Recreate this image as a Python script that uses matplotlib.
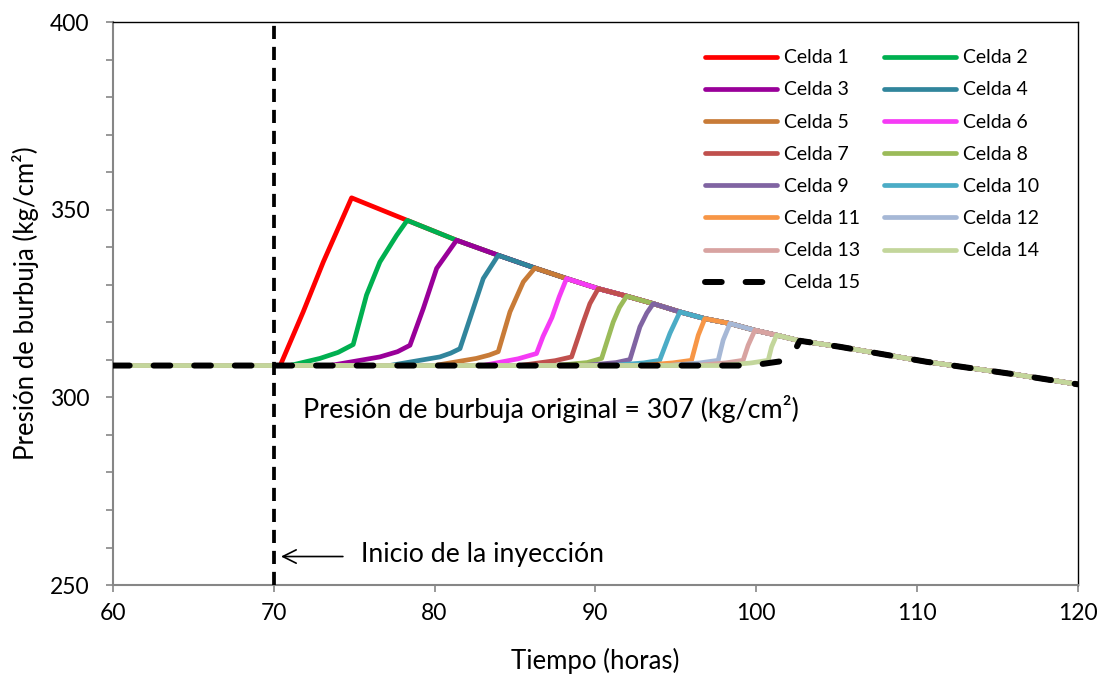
import matplotlib
matplotlib.use("Agg")
import matplotlib.pyplot as plt
from matplotlib.ticker import MultipleLocator

plt.rcParams['font.family'] = ['Lato', 'DejaVu Sans']

# Common declining envelope (peak of each cell and tail)
env_t = [74.84, 78.3, 81.37, 83.96, 86.24, 88.21, 90.18, 91.95, 93.6, 95.26,
         96.81, 98.37, 99.92, 101.27, 102.72, 105.2, 110.6, 116.0, 120.0]
env_p = [353.2, 347.2, 341.9, 337.9, 334.5, 331.7, 329.0, 327.0, 325.0, 322.8,
         321.0, 319.7, 317.9, 316.6, 315.1, 313.5, 309.5, 306.2, 303.5]

# Rising part of each cell (before it reaches the envelope)
rise_t = [
    [60, 70.4, 71.83, 73.08],
    [60, 71.0, 72.87, 74.0, 74.94, 75.77, 76.6, 77.64],
    [60, 73.5, 76.6, 77.7, 78.47, 79.3, 80.13],
    [60, 77.2, 80.33, 81.0, 81.58, 82.41, 83.03],
    [60, 80.0, 82.6, 83.4, 83.96, 84.69, 85.52],
    [60, 83.0, 85.2, 86.34, 86.75, 87.3, 87.75],
    [60, 85.3, 87.5, 88.52, 89.25, 89.66],
    [60, 87.5, 89.5, 90.39, 91.11, 91.5],
    [60, 89.3, 91.3, 92.15, 92.77, 93.2],
    [60, 91.0, 93.0, 94.0, 94.64],
    [60, 92.8, 94.8, 95.98, 96.4],
    [60, 94.5, 96.5, 97.64, 97.95],
    [60, 96.2, 98.1, 99.19, 99.5],
    [60, 97.8, 99.7, 100.75, 100.96],
    [60, 99.2, 100.34, 101.48, 102.41],
]
rise_p = [
    [308.5, 308.5, 322.8, 336.1],
    [308.5, 308.5, 310.4, 312.0, 314.1, 327.3, 336.1, 343.2],
    [308.5, 308.5, 310.8, 312.2, 313.9, 323.7, 334.4],
    [308.5, 308.5, 310.8, 311.8, 313.0, 323.7, 331.7],
    [308.5, 308.5, 310.4, 311.3, 312.2, 322.8, 330.8],
    [308.5, 308.5, 310.3, 311.7, 316.3, 321.3, 326.8],
    [308.5, 308.5, 309.8, 310.8, 320.1, 325.0],
    [308.5, 308.5, 309.3, 310.4, 320.1, 324.0],
    [308.5, 308.5, 309.3, 310.1, 318.8, 322.5],
    [308.5, 308.5, 309.2, 309.9, 317.1],
    [308.5, 308.5, 309.2, 309.9, 316.6],
    [308.5, 308.5, 309.2, 309.9, 315.3],
    [308.5, 308.5, 309.2, 309.9, 313.9],
    [308.5, 308.5, 309.2, 309.9, 313.5],
    [308.5, 308.5, 308.9, 309.6, 312.6],
]

labels = [f"Celda {i}" for i in range(1, 16)]
colors = ['#FF0000', '#00B050', '#990099', '#31859C', '#C87B37', '#F53BF5',
          '#C0504D', '#9BBB59', '#8064A2', '#4BACC6', '#F79646', '#A6B8D6',
          '#D8A3A1', '#C3D69B', '#000000']

fig = plt.figure(figsize=(11.02, 6.74), dpi=100)
ax = fig.add_axes([0.1025, 0.132, 0.8755, 0.835])

handles = []
for k in range(15):
    t = list(rise_t[k]) + env_t[k:]
    p = list(rise_p[k]) + env_p[k:]
    if k < 14:
        h, = ax.plot(t, p, color=colors[k], lw=3.4, solid_joinstyle='round',
                     solid_capstyle='round', label=labels[k], zorder=3)
    else:
        h, = ax.plot(t, p, color='black', lw=4.3, linestyle=(0, (2.8, 4.0)),
                     dash_capstyle='round', label=labels[k], zorder=4)
    handles.append(h)

# injection start line
ax.axvline(70, color='black', lw=2.7, linestyle=(0, (3.5, 2.1)), zorder=5)

ax.annotate("", xy=(70.45, 257.6), xytext=(74.3, 257.6),
            arrowprops=dict(arrowstyle='->', lw=1.2, color='black',
                            mutation_scale=24, shrinkA=0, shrinkB=0))
ax.text(75.4, 258.2, "Inicio de la inyección", fontsize=19.2, va='center', ha='left')
ax.text(71.8, 297.0, "Presión de burbuja original = 307 (kg/cm²)", fontsize=19.4,
        va='center', ha='left')

ax.set_xlim(60, 120)
ax.set_ylim(250, 400)
ax.xaxis.set_major_locator(MultipleLocator(10))
ax.yaxis.set_major_locator(MultipleLocator(50))
ax.yaxis.set_minor_locator(MultipleLocator(10))
ax.tick_params(axis='both', which='both', direction='out', color='#868686',
               labelsize=16.5, width=1.2, length=5)
ax.tick_params(axis='x', pad=8)
ax.tick_params(axis='y', pad=12)

for s in ['left', 'bottom']:
    ax.spines[s].set_color('#868686')
    ax.spines[s].set_linewidth(1.5)
for s in ['top', 'right']:
    ax.spines[s].set_color('black')
    ax.spines[s].set_linewidth(1.0)

ax.set_xlabel("Tiempo (horas)", fontsize=18.5, labelpad=17)
ax.set_ylabel("Presión de burbuja (kg/cm²)", fontsize=18.5, labelpad=8)

order = [0, 2, 4, 6, 8, 10, 12, 14, 1, 3, 5, 7, 9, 11, 13]
leg = ax.legend([handles[i] for i in order], [labels[i] for i in order],
                ncol=2, loc='upper left', bbox_to_anchor=(0.5955, 0.983),
                frameon=False, fontsize=14, handlelength=3.7,
                columnspacing=1.25, labelspacing=0.78, handletextpad=0.35)

fig.savefig("out.png", dpi=100)
